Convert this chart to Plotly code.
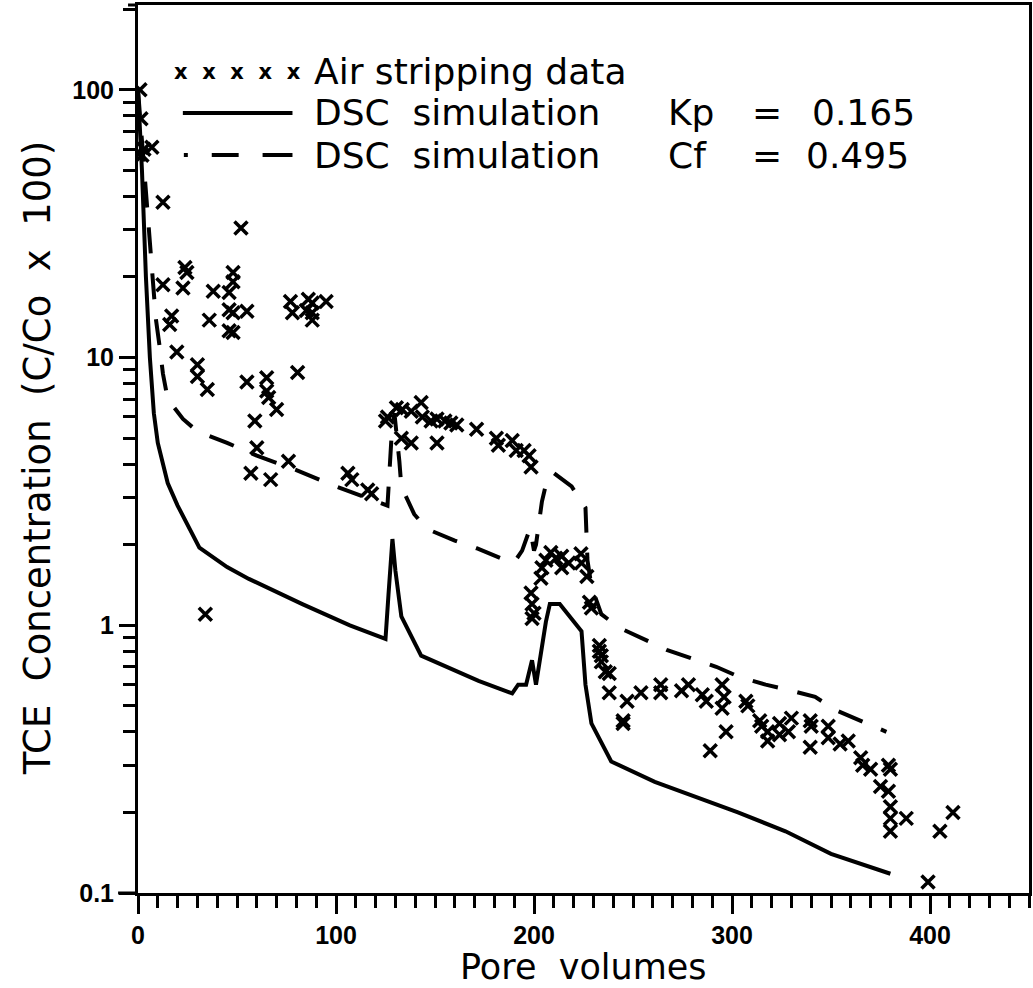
import plotly.graph_objects as go

# ---------------- data ----------------
data_x = [1, 1.5, 2, 3, 7,
          12.6, 12.6, 16, 17, 19.6, 22.7, 23.7, 24.7,
          30, 30, 35, 34, 36, 38,
          46, 46, 48, 48, 48, 46, 48, 52, 55, 55,
          57, 59, 60, 65, 65, 66, 70, 67, 76, 80.6,
          77, 78, 86, 88, 88, 95, 88, 85,
          106, 108, 116, 118,
          126, 125, 130.5, 133.5, 138, 143, 143.6, 148, 151, 155, 158, 161, 171, 181, 182,
          189, 191, 195, 197.5, 198.5, 138, 151, 133,
          198.5, 199, 200, 199, 203.5, 204, 206, 208.5, 211, 214, 214, 217.5, 223.7, 224,
          226.7, 228, 229,
          233, 233, 234, 234, 236, 238, 238, 245, 245, 247, 254, 264, 264, 274.5, 278,
          285, 287, 289, 295, 296, 295, 297, 307, 308, 314, 315, 318, 318, 324, 324,
          328.5, 330, 339.5, 339.5, 340, 348.6, 348.6, 354.6, 358.7, 365, 366, 370, 375,
          379, 379, 380, 380, 380, 380, 388, 399, 405, 411.6]
data_y = [100, 78, 57, 60, 61,
          38, 18.7, 13.3, 14.3, 10.5, 18.2, 21.7, 20.8,
          9.4, 8.5, 7.6, 1.1, 13.8, 17.7,
          17.5, 15.1, 20.8, 19.2, 14.7, 12.6, 12.4, 30.5, 14.9, 8.1,
          3.7, 5.8, 4.6, 8.4, 7.5, 7.1, 6.4, 3.5, 4.1, 8.8,
          16.2, 14.7, 16.5, 14.7, 13.8, 16.2, 16.0, 15.0,
          3.7, 3.5, 3.2, 3.1,
          6.0, 5.8, 6.5, 6.4, 6.3, 6.8, 6.0, 5.8, 5.9, 5.8, 5.7, 5.6, 5.4, 5.0, 4.7,
          4.9, 4.5, 4.5, 4.3, 3.9, 4.8, 4.8, 5.0,
          1.32, 1.2, 1.11, 1.06, 1.5, 1.64, 1.75, 1.87, 1.78, 1.81, 1.64, 1.71, 1.85, 1.71,
          1.52, 1.22, 1.16,
          0.84, 0.8, 0.77, 0.73, 0.67, 0.66, 0.56, 0.44, 0.43, 0.52, 0.56, 0.6, 0.56, 0.57, 0.6,
          0.55, 0.52, 0.34, 0.6, 0.54, 0.49, 0.4, 0.52, 0.5, 0.44, 0.42, 0.37, 0.40, 0.43, 0.39,
          0.40, 0.45, 0.44, 0.35, 0.42, 0.42, 0.38, 0.36, 0.37, 0.32, 0.30, 0.29, 0.25,
          0.24, 0.30, 0.29, 0.21, 0.19, 0.17, 0.19, 0.11, 0.17, 0.20]

solid_x = [0, 2, 4, 6, 8, 10, 15, 20, 31, 45, 56, 70, 83, 107, 125, 126.5, 128.5, 130,
           133, 143, 172, 189, 192, 196, 199, 201, 206, 208, 213, 224, 226, 229, 239,
           261, 303, 327, 350, 380]
solid_y = [100, 50, 20, 10, 6.2, 4.8, 3.4, 2.8, 1.95, 1.65, 1.49, 1.33, 1.2, 1.0, 0.89, 1.3,
           2.1, 1.6, 1.08, 0.77, 0.62, 0.557, 0.6, 0.6, 0.74, 0.6, 1.03, 1.2, 1.2, 0.95,
           0.6, 0.43, 0.31, 0.26, 0.2, 0.17, 0.14, 0.118]

dash_x = [0, 3, 6, 9, 11, 12.6, 15, 22.7, 30, 45, 60, 80, 100, 120, 126, 128, 129.5, 132,
          133, 139.5, 146, 160, 171, 184, 190, 194, 198, 200, 201, 204, 207, 210, 219, 226,
          227, 229, 234, 243, 255, 267, 280, 292, 304, 317, 330, 342, 353, 365, 378]
dash_y = [100, 50, 25, 14, 10.9, 8.7, 7.0, 5.9, 5.3, 4.8, 4.3, 3.8, 3.3, 2.9, 2.8, 5.0, 6.2,
          4.1, 3.3, 2.6, 2.29, 2.07, 1.94, 1.77, 1.72, 1.9, 2.3, 1.9, 2.0, 2.9, 3.6, 3.7, 3.3,
          2.75, 1.75, 1.4, 1.1, 0.98, 0.89, 0.81, 0.75, 0.70, 0.64, 0.60, 0.57, 0.54, 0.48,
          0.44, 0.40]

legend_labels = ["Air stripping data", "DSC\u00a0 simulation", "DSC\u00a0 simulation"]
legend_params = [("Kp", "0.165"), ("Cf", "0.495")]

x_title = "Pore\u00a0\u00a0volumes"
y_title = "TCE\u00a0\u00a0Concentration\u00a0\u00a0(C/Co\u00a0\u00a0x\u00a0\u00a0100)"
x_tickvals = [0, 100, 200, 300, 400]
x_ticktext = ["0", "100", "200", "300", "400"]
y_tickvals = [0.1, 1, 10, 100]
y_ticktext = ["0.1", "1", "10", "100"]

# ---------------- layout geometry ----------------
W, H = 1033, 988
L, R, T, B = 138, 1032, 5, 893


def px(xp):
    return (xp - L) / (R - L)


def py(yp):
    return (B - yp) / (B - T)


fig = go.Figure()
fig.add_trace(go.Scatter(x=solid_x, y=solid_y, mode="lines",
                         line=dict(color="black", width=4), showlegend=False))
fig.add_trace(go.Scatter(x=dash_x, y=dash_y, mode="lines",
                         line=dict(color="black", width=4, dash="26px,20px"),
                         showlegend=False))
fig.add_trace(go.Scatter(x=data_x, y=data_y, mode="markers",
                         marker=dict(symbol="x-thin-open", size=13, color="black",
                                     line=dict(color="black", width=3.5)),
                         showlegend=False))

minor_vals = [k * 10.0 ** e for e in (-1, 0, 1, 2) for k in range(2, 10)]
tickfont = dict(family="Liberation Sans", size=25, weight="bold", color="black")

fig.update_layout(
    width=W, height=H,
    margin=dict(l=L, r=W - R, t=T, b=H - B),
    paper_bgcolor="white", plot_bgcolor="white",
    font=dict(family="DejaVu Sans", color="black"),
    xaxis=dict(range=[0, 450], showgrid=False, zeroline=False,
               showline=True, linecolor="black", linewidth=3, mirror=True,
               ticks="outside", ticklen=18, tickwidth=3, tickcolor="black",
               tickvals=x_tickvals, ticktext=x_ticktext, ticklabelstandoff=0,
               tickfont=tickfont,
               minor=dict(ticks="outside", ticklen=12, tickwidth=3, tickcolor="black",
                          dtick=10, showgrid=False)),
    yaxis=dict(type="log", range=[-1, 2.317], showgrid=False, zeroline=False,
               showline=True, linecolor="black", linewidth=3, mirror=True,
               ticks="outside", ticklen=16, tickwidth=3, tickcolor="black",
               tickvals=y_tickvals, ticktext=y_ticktext,
               tickfont=tickfont,
               minor=dict(ticks="outside", ticklen=12, tickwidth=3, tickcolor="black",
                          tickvals=minor_vals, showgrid=False)),
)

ann = []
# axis titles
ann.append(dict(text=x_title, x=0.5, y=-(989 - B) / (B - T), xref="paper", yref="paper",
                xanchor="center", yanchor="bottom", showarrow=False,
                font=dict(family="DejaVu Sans", size=35)))
ann.append(dict(text=y_title, x=px(38), y=py(458), xref="paper", yref="paper",
                xanchor="center", yanchor="middle", showarrow=False, textangle=-90,
                font=dict(family="DejaVu Sans", size=37)))

# legend
rows = [71, 113, 155]
lf = dict(family="DejaVu Sans", size=36, color="black")
for i, lab in enumerate(legend_labels):
    ann.append(dict(text=lab, x=px(313), y=py(rows[i]), xref="paper", yref="paper",
                    xanchor="left", yanchor="middle", showarrow=False, font=lf))
for i, (p, v) in enumerate(legend_params):
    r = rows[i + 1]
    ann.append(dict(text=p, x=px(668), y=py(r), xref="paper", yref="paper",
                    xanchor="left", yanchor="middle", showarrow=False, font=lf))
    ann.append(dict(text="=", x=px(769), y=py(r), xref="paper", yref="paper",
                    xanchor="center", yanchor="middle", showarrow=False, font=lf))
    ann.append(dict(text=v, x=px(920 if i == 0 else 914), y=py(r), xref="paper",
                    yref="paper", xanchor="right", yanchor="middle", showarrow=False,
                    font=lf))
ann.append(dict(text="x\u00a0\u00a0x\u00a0\u00a0x\u00a0\u00a0x\u00a0\u00a0x", x=px(238), y=py(rows[0] + 1),
                xref="paper", yref="paper", xanchor="center", yanchor="middle",
                showarrow=False, font=dict(family="DejaVu Sans", size=21, weight="bold")))
fig.update_layout(annotations=ann)

shapes = [
    dict(type="line", xref="paper", yref="paper", x0=px(183), x1=px(293),
         y0=py(rows[1]), y1=py(rows[1]), line=dict(color="black", width=4)),
    dict(type="line", xref="paper", yref="paper", x0=px(184), x1=px(188),
         y0=py(rows[2]), y1=py(rows[2]), line=dict(color="black", width=4)),
    dict(type="line", xref="paper", yref="paper", x0=px(212), x1=px(239),
         y0=py(rows[2]), y1=py(rows[2]), line=dict(color="black", width=4)),
    dict(type="line", xref="paper", yref="paper", x0=px(263), x1=px(293),
         y0=py(rows[2]), y1=py(rows[2]), line=dict(color="black", width=4)),
    # axis stubs extending past the corner, as in the original drawing
    dict(type="line", xref="paper", yref="paper", x0=px(118), x1=px(138),
         y0=0, y1=0, line=dict(color="black", width=3)),
    dict(type="line", xref="paper", yref="paper", x0=px(128), x1=px(138),
         y0=1, y1=1, line=dict(color="black", width=3)),
]
fig.update_layout(shapes=shapes)

fig.write_html("out.html")
